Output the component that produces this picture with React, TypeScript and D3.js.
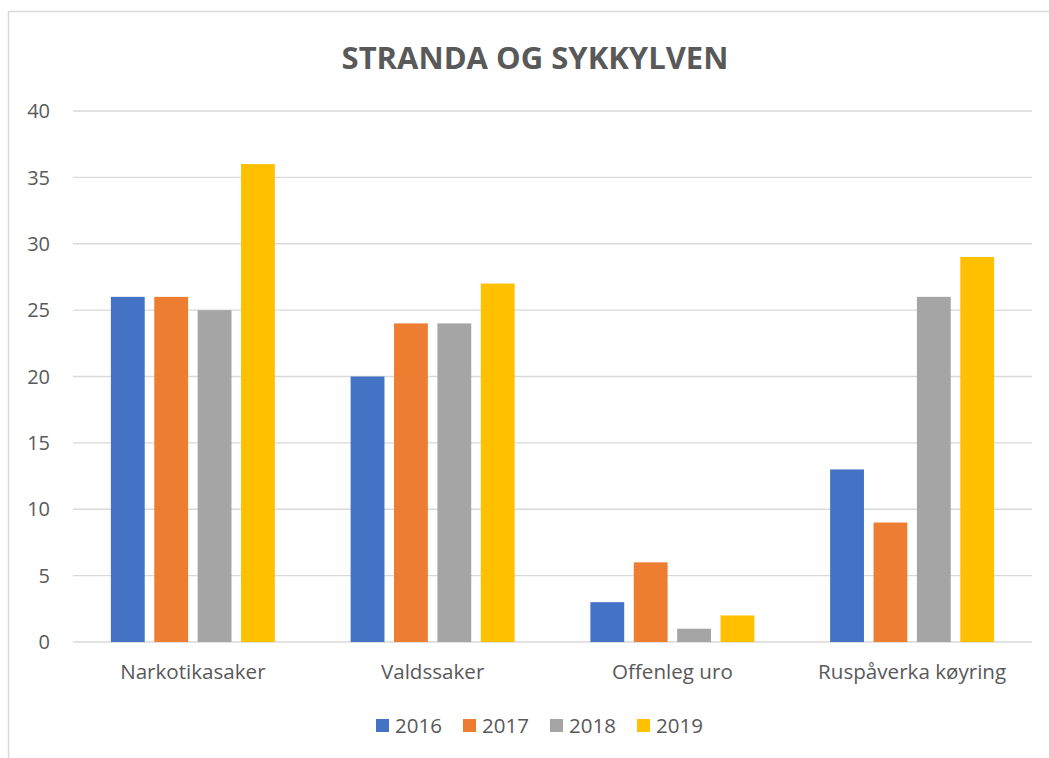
import React, { useEffect, useRef } from "react";
import * as d3 from "d3";

const categories = ["Narkotikasaker", "Valdssaker", "Offenleg uro", "Ruspåverka køyring"];
const years = ["2016", "2017", "2018", "2019"];
const values2016 = [26, 20, 3, 13];
const values2017 = [26, 24, 6, 9];
const values2018 = [25, 24, 1, 26];
const values2019 = [36, 27, 2, 29];
const yTicks = [0, 5, 10, 15, 20, 25, 30, 35, 40];
const colors = ["#4472C4", "#ED7D31", "#A5A5A5", "#FFC000"];

const series = [values2016, values2017, values2018, values2019];

const drawChart = (svgEl: SVGSVGElement) => {
  const width = 1049,
    height = 758,
    left = 73,
    right = 1032,
    top = 111,
    bottom = 642;
  const font = "'Open Sans', sans-serif";
  const textColor = "#595959";

  const svg = d3.select(svgEl);
  svg.selectAll("*").remove();
  svg.attr("width", width).attr("height", height);

  svg
    .append("rect")
    .attr("x", 8.5)
    .attr("y", 11.5)
    .attr("width", 1100)
    .attr("height", 800)
    .attr("fill", "white")
    .attr("stroke", "#D9D9D9")
    .attr("stroke-width", 1.5);

  const y = d3.scaleLinear().domain([0, 40]).range([bottom, top]);
  const x0 = d3
    .scaleBand()
    .domain(categories)
    .range([left, right])
    .paddingInner(0.316)
    .paddingOuter(0.158);
  const x1 = d3
    .scaleBand()
    .domain(years)
    .range([0, x0.bandwidth()])
    .paddingInner(0.22);

  // title
  svg
    .append("text")
    .attr("x", 535)
    .attr("y", 69)
    .attr("text-anchor", "middle")
    .attr("font-family", font)
    .attr("font-weight", "bold")
    .attr("font-size", 31)
    .attr("fill", textColor)
    .text("STRANDA OG SYKKYLVEN");

  // grid
  svg
    .append("g")
    .selectAll("line")
    .data(yTicks)
    .enter()
    .append("line")
    .attr("x1", left)
    .attr("x2", right)
    .attr("y1", (d) => y(d))
    .attr("y2", (d) => y(d))
    .attr("stroke", "#D9D9D9")
    .attr("stroke-width", 1.3);

  svg
    .append("g")
    .selectAll("text")
    .data(yTicks)
    .enter()
    .append("text")
    .attr("x", 50)
    .attr("y", (d) => y(d))
    .attr("dy", "0.36em")
    .attr("text-anchor", "end")
    .attr("font-family", font)
    .attr("font-size", 20)
    .attr("fill", textColor)
    .text((d) => d);

  // bars
  const groups = svg
    .append("g")
    .selectAll("g")
    .data(categories)
    .enter()
    .append("g")
    .attr("transform", (d) => `translate(${x0(d)},0)`);

  groups
    .selectAll("rect")
    .data((d, i) => years.map((yr, j) => ({ yr, v: series[j][i], c: colors[j] })))
    .enter()
    .append("rect")
    .attr("x", (d) => x1(d.yr) as number)
    .attr("width", x1.bandwidth())
    .attr("y", (d) => y(d.v))
    .attr("height", (d) => bottom - y(d.v))
    .attr("fill", (d) => d.c);

  // category labels
  svg
    .append("g")
    .selectAll("text")
    .data(categories)
    .enter()
    .append("text")
    .attr("x", (d) => (x0(d) as number) + x0.bandwidth() / 2)
    .attr("y", 679)
    .attr("text-anchor", "middle")
    .attr("font-family", font)
    .attr("font-size", 20.6)
    .attr("fill", textColor)
    .text((d) => d);

  // legend
  const legend = svg
    .append("g")
    .selectAll("g")
    .data(years)
    .enter()
    .append("g")
    .attr("transform", (d, i) => `translate(${376 + i * 87},719)`);
  legend
    .append("rect")
    .attr("width", 13)
    .attr("height", 13)
    .attr("fill", (d, i) => colors[i]);
  legend
    .append("text")
    .attr("x", 19)
    .attr("y", 14)
    .attr("font-family", font)
    .attr("font-size", 20.5)
    .attr("fill", textColor)
    .text((d) => d);
};

const App = () => {
  const svg = useRef<SVGSVGElement>(null);
  useEffect(() => {
    if (svg.current) drawChart(svg.current);
  }, []);
  return (
    <div style={{ position: "absolute", left: 0, top: 0 }}>
      <svg ref={svg} style={{ display: "block" }} />
    </div>
  );
};

export default App;
